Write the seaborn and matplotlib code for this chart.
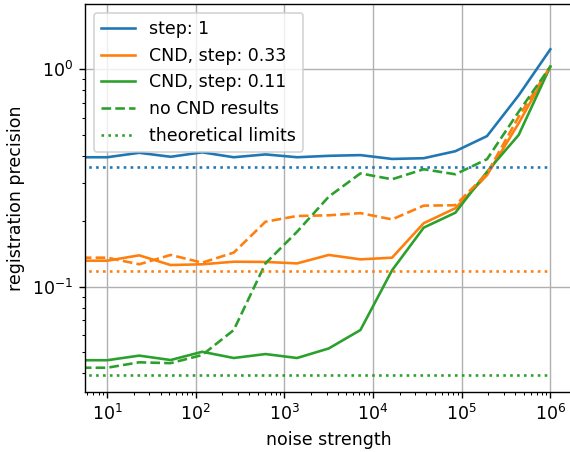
import matplotlib
matplotlib.use("Agg")
import matplotlib.pyplot as plt
import seaborn as sns
import pandas as pd

# noise strengths (0 = noise-free run)
noise = [0, 10, 23, 52, 118, 268, 611, 1389, 3162, 7197, 16379, 37276,
         84834, 193070, 439397, 1000000]

# registration precision per configuration
step_1 = [0.394, 0.394, 0.413, 0.396, 0.415, 0.394, 0.406, 0.394, 0.400,
          0.403, 0.387, 0.390, 0.420, 0.493, 0.759, 1.236]
cnd_033 = [0.1317, 0.1317, 0.1394, 0.1258, 0.1268, 0.1303, 0.130, 0.128,
           0.140, 0.1336, 0.136, 0.196, 0.2296, 0.326, 0.565, 1.03]
cnd_011 = [0.0459, 0.0459, 0.0482, 0.046, 0.0502, 0.047, 0.049, 0.047,
           0.052, 0.0632, 0.119, 0.187, 0.219, 0.338, 0.499, 1.03]
nocnd_033 = [0.136, 0.136, 0.1268, 0.140, 0.129, 0.1435, 0.199, 0.2115,
             0.213, 0.218, 0.204, 0.236, 0.237, 0.332, 0.605, 1.03]
nocnd_011 = [0.0424, 0.0424, 0.0449, 0.0445, 0.0485, 0.0632, 0.128, 0.179,
             0.2595, 0.332, 0.312, 0.347, 0.329, 0.386, 0.638, 1.028]

# theoretical precision limits for steps 1, 0.33, 0.11
limits = [0.3536, 0.1179, 0.0393]

colors = ["#1f77b4", "#ff7f0e", "#2ca02c"]

df = pd.DataFrame({
    "noise": noise,
    "step_1": step_1,
    "cnd_033": cnd_033,
    "cnd_011": cnd_011,
    "nocnd_033": nocnd_033,
    "nocnd_011": nocnd_011,
})
for i, lim in enumerate(limits):
    df[f"limit_{i}"] = [lim] * len(noise)

fig = plt.figure(figsize=(570 / 125, 452 / 125), dpi=125)
ax = fig.add_axes([85 / 570, 60.5 / 452, 487.5 / 570, 387.2 / 452])

sns.lineplot(data=df, x="noise", y="step_1", color=colors[0], label="step: 1", ax=ax)
sns.lineplot(data=df, x="noise", y="cnd_033", color=colors[1], label="CND, step: 0.33", ax=ax)
sns.lineplot(data=df, x="noise", y="cnd_011", color=colors[2], label="CND, step: 0.11", ax=ax)
sns.lineplot(data=df, x="noise", y="nocnd_033", color=colors[1], linestyle="--", ax=ax)
sns.lineplot(data=df, x="noise", y="nocnd_011", color=colors[2], linestyle="--",
             label="no CND results", ax=ax)
sns.lineplot(data=df, x="noise", y="limit_0", color=colors[0], linestyle=":", ax=ax)
sns.lineplot(data=df, x="noise", y="limit_1", color=colors[1], linestyle=":", ax=ax)
sns.lineplot(data=df, x="noise", y="limit_2", color=colors[2], linestyle=":",
             label="theoretical limits", ax=ax)

ax.set_xscale("log")
ax.set_yscale("log")
ax.set_xlim(10 ** 0.75, 10 ** 6.25)
ax.set_ylim(10 ** -1.482, 10 ** 0.299)
ax.grid(True, which="major", color="#b0b0b0", linewidth=0.8)
ax.set_axisbelow(True)
ax.set_xlabel("noise strength")
ax.set_ylabel("registration precision")
ax.legend(loc="upper left")

fig.savefig("out.png", dpi=125)
